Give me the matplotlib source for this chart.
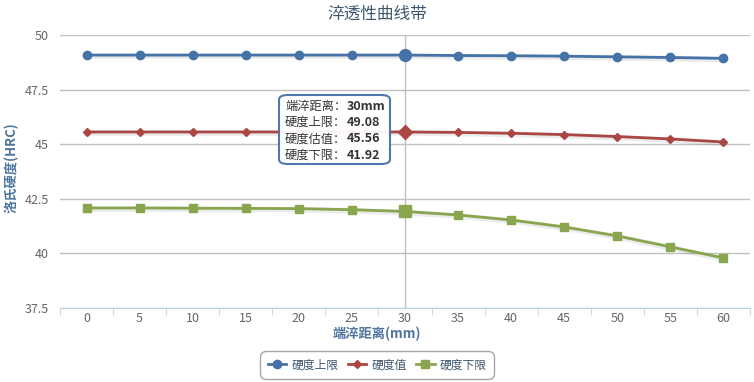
import matplotlib
matplotlib.use('Agg')
import matplotlib.pyplot as plt
import matplotlib.patheffects as pe
from matplotlib.patches import FancyBboxPatch
from matplotlib.lines import Line2D
import numpy as np

plt.rcParams['font.family'] = ['Noto Sans CJK SC', 'DejaVu Sans']

# data
distance = [0, 5, 10, 15, 20, 25, 30, 35, 40, 45, 50, 55, 60]
upper = [49.08, 49.08, 49.08, 49.08, 49.08, 49.08, 49.08, 49.06, 49.05, 49.03, 49.00, 48.97, 48.93]
middle = [45.56, 45.56, 45.56, 45.56, 45.56, 45.56, 45.56, 45.54, 45.50, 45.44, 45.35, 45.24, 45.10]
lower = [42.08, 42.08, 42.07, 42.06, 42.05, 42.00, 41.92, 41.76, 41.53, 41.21, 40.80, 40.30, 39.79]
yticks = [37.5, 40, 42.5, 45, 47.5, 50]
hover_idx = 6

c_up = '#4572A7'
c_mid = '#AA4643'
c_low = '#89A54E'
label_col = '#4D759E'
tick_col = '#666666'

fig = plt.figure(figsize=(7.54, 3.82), dpi=100)
ax = fig.add_axes([60 / 754, 1 - 308 / 382, 690 / 754, 273 / 382])

x = np.arange(len(distance))
shadow = [pe.SimpleLineShadow(offset=(0.5, -0.8), alpha=0.08, linewidth=4), pe.Normal()]

series = [(upper, c_up, 'o', 6, '硬度上限'),
          (middle, c_mid, 'D', 4.5, '硬度值'),
          (lower, c_low, 's', 6, '硬度下限')]
handles = []
for vals, col, mk, ms, name in series:
    ax.plot(x, vals, color=col, lw=2, path_effects=shadow, zorder=3)
    ax.plot(x, vals, ls='none', marker=mk, ms=ms, color=col, mec=col, zorder=4)
    ax.plot(x[hover_idx], vals[hover_idx], marker=mk, ms=ms + 2.5, color=col, mec=col, zorder=5)
    handles.append(Line2D([], [], color=col, lw=2, marker=mk, ms=ms, mec=col, label=name))

# crosshair
ax.axvline(x[hover_idx], color='#C0C0C0', lw=1, zorder=1)

ax.set_xlim(-0.5, len(distance) - 0.5)
ax.set_ylim(37.5, 50)
ax.set_yticks(yticks)
ax.set_yticklabels([('%g' % v) for v in yticks])
ax.set_xticks(x)
ax.set_xticklabels([str(d) for d in distance])
ax.set_xticks(np.arange(-0.5, len(distance)), minor=True)
ax.tick_params(axis='x', which='major', length=0, labelsize=9, labelcolor=tick_col, pad=3)
ax.tick_params(axis='x', which='minor', length=5, color='#C0D0E0')
ax.tick_params(axis='y', length=0, labelsize=9, labelcolor=tick_col, pad=8)
ax.yaxis.grid(True, color='#C0C0C0', lw=1)
ax.set_axisbelow(True)
for s in ['top', 'right', 'left']:
    ax.spines[s].set_visible(False)
ax.spines['bottom'].set_color('#C0D0E0')

fig.text(0.5, 1 - 14 / 382, '淬透性曲线带', ha='center', va='center', fontsize=12, color='#3E576F')
fig.text(12 / 754, 1 - 168 / 382, '洛氏硬度(HRC)', rotation=90, ha='center', va='center',
         fontsize=9.5, fontweight='bold', color=label_col)
fig.text(377 / 754, 1 - 334 / 382, '端淬距离(mm)', ha='center', va='center',
         fontsize=9.5, fontweight='bold', color=label_col)

# tooltip
tip = FancyBboxPatch((279 / 754, 1 - 164 / 382), 111 / 754, 69 / 382,
                     boxstyle='round,pad=0,rounding_size=0.012', transform=fig.transFigure,
                     fc='white', ec=c_up, lw=1.5, alpha=0.95, zorder=10)
fig.patches.append(tip)
tip_rows = [('端淬距离：', '%dmm' % distance[hover_idx]),
            ('硬度上限：', '%.2f' % upper[hover_idx]),
            ('硬度估值：', '%.2f' % middle[hover_idx]),
            ('硬度下限：', '%.2f' % lower[hover_idx])]
for i, (k, v) in enumerate(tip_rows):
    yy = 1 - (106 + i * 16.5) / 382
    fig.text(285 / 754, yy, k, ha='left', va='center', fontsize=8.8, color='#333333', zorder=11)
    fig.text(347 / 754, yy, v, ha='left', va='center', fontsize=9, fontweight='bold',
             color='#333333', zorder=11)

leg = fig.legend(handles=handles, loc='center', bbox_to_anchor=(377 / 754, 1 - 365 / 382),
                 ncol=3, frameon=True, fontsize=8.5, handlelength=1.6, columnspacing=0.8,
                 handletextpad=0.4, borderpad=0.4)
leg.get_frame().set_edgecolor('#909090')
leg.get_frame().set_linewidth(1)
leg.get_frame().set_boxstyle('round,pad=0.2,rounding_size=0.5')
for t in leg.get_texts():
    t.set_color('#3E576F')

fig.savefig('out.png', dpi=100)
